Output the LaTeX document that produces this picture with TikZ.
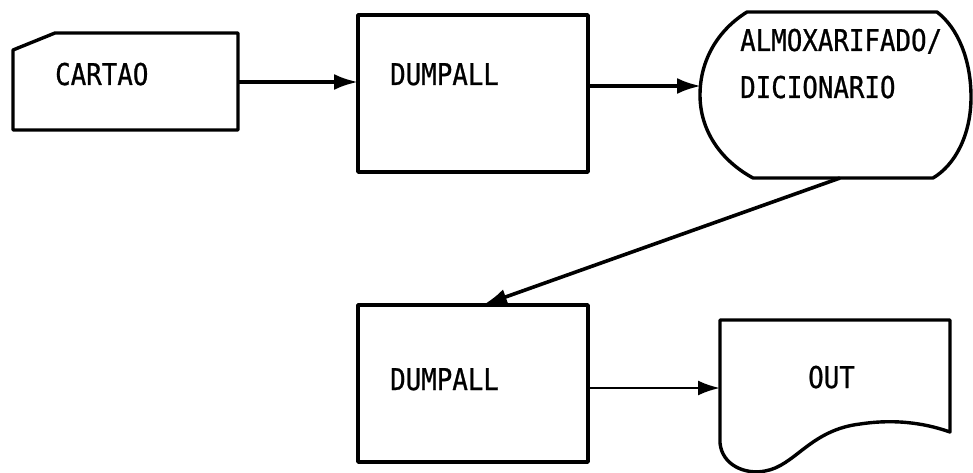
\documentclass[tikz,border=0pt]{standalone}
\usepackage{fontspec}
\newfontfamily\flowfont[FakeStretch=0.86,FakeBold=0.8]{DejaVu Sans Mono}
\usetikzlibrary{arrows.meta}
\begin{document}
\begin{tikzpicture}[x=1pt,y=-1pt,line join=round,
  outline/.style={draw,line width=3.4pt},
  procbox/.style={outline,minimum width=230pt,minimum height=157pt,inner sep=0pt},
  lbl/.style={font=\flowfont\fontsize{30}{30}\selectfont,inner sep=0pt,anchor=base west},
  flow/.style={line width=3.6pt,-{Latex[length=24pt,width=16pt]}},
  thinflow/.style={line width=2.6pt,-{Latex[length=22pt,width=15pt]}}]
\useasboundingbox (0,0) rectangle (973,473);

% CARTAO (punched card)
\draw[outline] (13,50) -- (55,33) -- (238,33) -- (238,130) -- (13,130) -- cycle;
\node[lbl] (tcartao) at (55,85) {CARTAO};
\coordinate (cartaoE) at (238,82);

% DUMPALL 1
\node[procbox] (dump1) at (473,93.5) {};
\node[lbl] (tdump1) at (390,85) {DUMPALL};
\coordinate (dump1W) at (358,82);
\coordinate (dump1E) at (588,86);

% ALMOXARIFADO / DICIONARIO (stored data)
\draw[outline] (747,12) -- (937,12)
  .. controls (958,28) and (971,60) .. (971,97)
  .. controls (971,135) and (955,165) .. (933,178)
  -- (753,178)
  .. controls (720,160) and (700,130) .. (700,95)
  .. controls (700,60) and (718,30) .. (747,12) -- cycle;
\node[lbl] (talm1) at (740,51) {ALMOXARIFADO/};
\node[lbl] (talm2) at (740,98) {DICIONARIO};
\coordinate (almW) at (701,86);
\coordinate (almS) at (840,178);

% DUMPALL 2
\node[procbox] (dump2) at (473,383.5) {};
\node[lbl] (tdump2) at (390,390) {DUMPALL};
\coordinate (dump2N) at (483,305);
\coordinate (dump2E) at (588,388);

% OUT (document)
\draw[outline] (720,443) -- (720,320) -- (950,320) -- (950,432)
  .. controls (930,425) and (900,418) .. (860,424)
  .. controls (810,430) and (795,466) .. (765,471)
  .. controls (745,475) and (722,465) .. (720,443) -- cycle;
\node[lbl] (tout) at (808,388) {OUT};
\coordinate (outW) at (720,388);

% connectors
\draw[flow] (cartaoE) -- (dump1W);
\draw[flow] (dump1E) -- (almW);
\draw[flow] (almS) -- (dump2N);
\draw[thinflow] (dump2E) -- (outW);
\end{tikzpicture}
\end{document}
